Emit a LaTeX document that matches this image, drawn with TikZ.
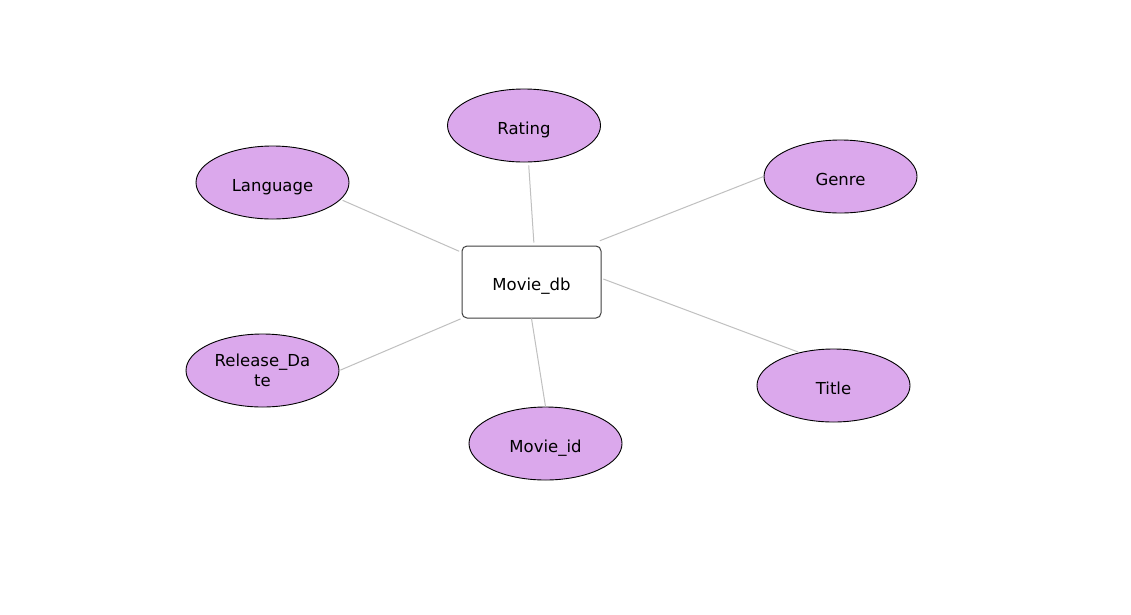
\documentclass[tikz,border=0pt]{standalone}
\usepackage{fontspec}
\setmainfont{DejaVu Sans}
\usetikzlibrary{shapes.geometric}
\definecolor{attrfill}{RGB}{219,168,236}
\definecolor{edgegray}{RGB}{192,192,192}
\begin{document}
\begin{tikzpicture}[x=1pt,y=-1pt,
  attr/.style={ellipse, draw=black, fill=attrfill, line width=0.9pt,
    minimum width=153pt, minimum height=73pt, inner sep=0pt,
    font=\fontsize{16.5}{20}\selectfont, align=center},
  oneline/.style={text height=17pt, text depth=0pt},
  entity/.style={rectangle, rounded corners=5pt, draw=black!75, fill=white,
    line width=1pt, minimum width=139pt, minimum height=72pt, inner sep=0pt,
    font=\fontsize{16.5}{20}\selectfont},
  link/.style={draw=edgegray, line width=1pt}]
\useasboundingbox (0,0) rectangle (1131,614);
\fill[white] (0,0) rectangle (1131,614);

\node[entity, oneline] (db) at (531.5,282) {Movie\_db};
\node[attr, oneline] (rating) at (524,125.5) {Rating};
\node[attr, oneline] (genre) at (840.5,176.5) {Genre};
\node[attr, oneline] (language) at (272.5,182.5) {Language};
\node[attr] (release) at (262.5,370.5) {Release\_Da\\te};
\node[attr, oneline] (movieid) at (545.5,443.5) {Movie\_id};
\node[attr, oneline] (title) at (833.5,385.5) {Title};

\draw[link, shorten <=3pt, shorten >=3pt] (rating.-83) -- (db.86);
\draw[link, shorten >=13pt] (genre.west) -- (db.33);
\draw[link, shorten <=2pt, shorten >=2.5pt] (language.-14) -- (db.157);
\draw[link, shorten <=1pt, shorten >=1pt] (release.east) -- (db.south west);
\draw[link] (movieid.north) -- (db.south);
\draw[link, shorten <=1pt, shorten >=2pt] (title.136) -- (db.3);
\end{tikzpicture}
\end{document}
